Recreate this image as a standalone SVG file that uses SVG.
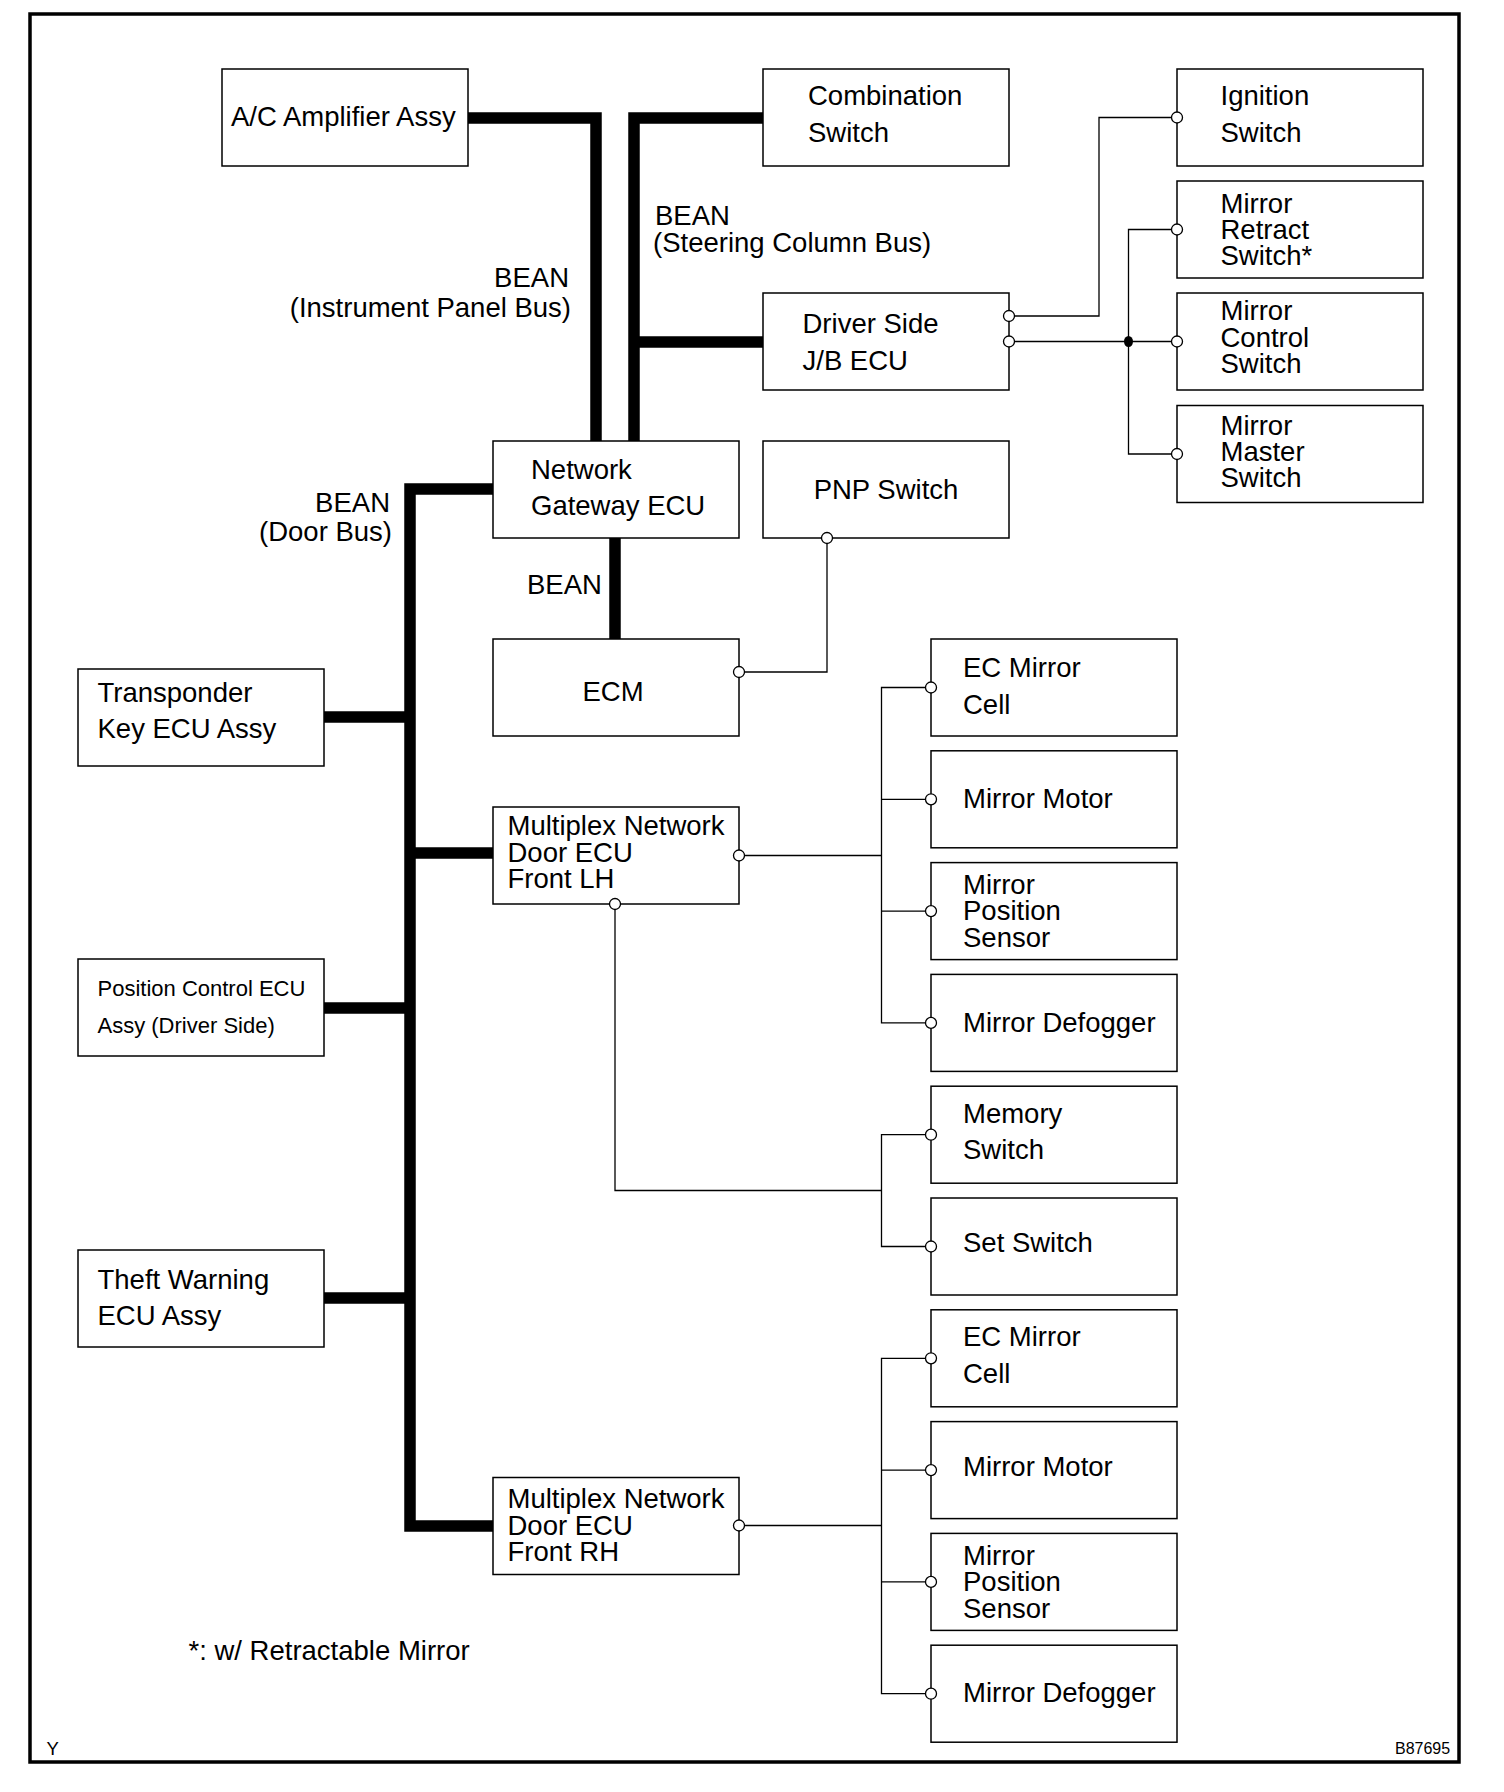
<svg xmlns="http://www.w3.org/2000/svg" width="1504" height="1792" viewBox="0 0 1504 1792">
<style>
.box{fill:#fff;stroke:#000;stroke-width:1.5}
.t{font-family:"Liberation Sans",Arial,sans-serif;font-size:27.5px;fill:#000}
.s{font-family:"Liberation Sans",Arial,sans-serif;font-size:22px;fill:#000}
.bus{fill:none;stroke:#000;stroke-width:11.5;stroke-linejoin:miter}
.w{fill:none;stroke:#000;stroke-width:1.3}
.p{fill:#fff;stroke:#000;stroke-width:1.3}
</style>
<rect x="30" y="14" width="1429" height="1748" fill="#fff" stroke="#000" stroke-width="3.5"/>
<g id="connectors">
<path class="bus" d="M468,118 H596 V441"/>
<path class="bus" d="M763,118 H634 V441"/>
<path class="bus" d="M634,342 H763"/>
<path class="bus" d="M493,489 H410 V1526 H493"/>
<path class="bus" d="M324,717 H410"/>
<path class="bus" d="M410,853 H493"/>
<path class="bus" d="M324,1008 H410"/>
<path class="bus" d="M324,1298 H410"/>
<path class="bus" d="M615,538 V639"/>
<path class="w" d="M1009,316 H1099 V117.5 H1177"/>
<path class="w" d="M1009,341.5 H1177"/>
<path class="w" d="M1177,229.5 H1128.5 V454 H1177"/>
<path class="w" d="M827,538 V672 H739"/>
<path class="w" d="M739,855.5 H881.5"/>
<path class="w" d="M931,687.5 H881.5 V1022.9 H931 M881.5,799.3 H931 M881.5,911.1 H931"/>
<path class="w" d="M615,904 V1190.5 H881.5"/>
<path class="w" d="M931,1134.7 H881.5 V1246.5 H931"/>
<path class="w" d="M739,1525.5 H881.5"/>
<path class="w" d="M931,1358.3 H881.5 V1693.7 H931 M881.5,1470.1 H931 M881.5,1581.9 H931"/>
</g>
<g id="labels">
<text class="t" text-anchor="end" x="569" y="287">BEAN</text>
<text class="t" text-anchor="end" x="571" y="317">(Instrument Panel Bus)</text>
<text class="t" x="655" y="225">BEAN</text>
<text class="t" x="653" y="252">(Steering Column Bus)</text>
<text class="t" text-anchor="end" x="390" y="512">BEAN</text>
<text class="t" text-anchor="end" x="392" y="541">(Door Bus)</text>
<text class="t" x="527" y="594">BEAN</text>
<text class="t" x="188.5" y="1660">*: w/ Retractable Mirror</text>
<text font-family="Liberation Sans, Arial, sans-serif" font-size="18.5" x="46.5" y="1755">Y</text>
<text font-family="Liberation Sans, Arial, sans-serif" font-size="16" x="1395" y="1754">B87695</text>
</g>
<g id="ac-amplifier"><rect class="box" x="222" y="69" width="246" height="97"/><text class="t" x="231" y="125.5">A/C Amplifier Assy</text></g>
<g id="combination-switch"><rect class="box" x="763" y="69" width="246" height="97"/><text class="t" x="808" y="105">Combination</text><text class="t" x="808" y="142">Switch</text></g>
<g id="ignition-switch"><rect class="box" x="1177" y="69" width="246" height="97"/><text class="t" x="1220.5" y="105">Ignition</text><text class="t" x="1220.5" y="142">Switch</text></g>
<g id="mirror-retract-switch"><rect class="box" x="1177" y="181" width="246" height="97"/><text class="t" x="1220.5" y="212.5">Mirror</text><text class="t" x="1220.5" y="238.5">Retract</text><text class="t" x="1220.5" y="265">Switch*</text></g>
<g id="driver-side-jb-ecu"><rect class="box" x="763" y="293" width="246" height="97"/><text class="t" x="802.5" y="333">Driver Side</text><text class="t" x="802.5" y="369.5">J/B ECU</text></g>
<g id="mirror-control-switch"><rect class="box" x="1177" y="293" width="246" height="97"/><text class="t" x="1220.5" y="320">Mirror</text><text class="t" x="1220.5" y="346.5">Control</text><text class="t" x="1220.5" y="372.5">Switch</text></g>
<g id="mirror-master-switch"><rect class="box" x="1177" y="405.5" width="246" height="97"/><text class="t" x="1220.5" y="434.5">Mirror</text><text class="t" x="1220.5" y="460.5">Master</text><text class="t" x="1220.5" y="487">Switch</text></g>
<g id="network-gateway-ecu"><rect class="box" x="493" y="441" width="246" height="97"/><text class="t" x="531" y="479">Network</text><text class="t" x="531" y="515">Gateway ECU</text></g>
<g id="pnp-switch"><rect class="box" x="763" y="441" width="246" height="97"/><text class="t" x="886" y="498.5" text-anchor="middle">PNP Switch</text></g>
<g id="ecm"><rect class="box" x="493" y="639" width="246" height="97"/><text class="t" x="613" y="700.5" text-anchor="middle">ECM</text></g>
<g id="transponder-key-ecu"><rect class="box" x="78" y="669" width="246" height="97"/><text class="t" x="97.5" y="701.5">Transponder</text><text class="t" x="97.5" y="738">Key ECU Assy</text></g>
<g id="ec-mirror-cell-lh"><rect class="box" x="931" y="639" width="246" height="97"/><text class="t" x="963" y="676.5">EC Mirror</text><text class="t" x="963" y="713.5">Cell</text></g>
<g id="mirror-motor-lh"><rect class="box" x="931" y="750.8" width="246" height="97"/><text class="t" x="963" y="807.5">Mirror Motor</text></g>
<g id="multiplex-door-ecu-lh"><rect class="box" x="493" y="807" width="246" height="97"/><text class="t" x="507.5" y="835">Multiplex Network</text><text class="t" x="507.5" y="861.5">Door ECU</text><text class="t" x="507.5" y="888">Front LH</text></g>
<g id="mirror-position-sensor-lh"><rect class="box" x="931" y="862.6" width="246" height="97"/><text class="t" x="963" y="893.5">Mirror</text><text class="t" x="963" y="920">Position</text><text class="t" x="963" y="946.5">Sensor</text></g>
<g id="position-control-ecu"><rect class="box" x="78" y="959" width="246" height="97"/><text class="s" x="97.5" y="996">Position Control ECU</text><text class="s" x="97.5" y="1032.5">Assy (Driver Side)</text></g>
<g id="mirror-defogger-lh"><rect class="box" x="931" y="974.4" width="246" height="97"/><text class="t" x="963" y="1032">Mirror Defogger</text></g>
<g id="memory-switch"><rect class="box" x="931" y="1086.2" width="246" height="97"/><text class="t" x="963" y="1122.5">Memory</text><text class="t" x="963" y="1159">Switch</text></g>
<g id="set-switch"><rect class="box" x="931" y="1198" width="246" height="97"/><text class="t" x="963" y="1252">Set Switch</text></g>
<g id="theft-warning-ecu"><rect class="box" x="78" y="1250" width="246" height="97"/><text class="t" x="97.5" y="1289">Theft Warning</text><text class="t" x="97.5" y="1325">ECU Assy</text></g>
<g id="ec-mirror-cell-rh"><rect class="box" x="931" y="1309.8" width="246" height="97"/><text class="t" x="963" y="1346">EC Mirror</text><text class="t" x="963" y="1382.5">Cell</text></g>
<g id="mirror-motor-rh"><rect class="box" x="931" y="1421.6" width="246" height="97"/><text class="t" x="963" y="1476">Mirror Motor</text></g>
<g id="multiplex-door-ecu-rh"><rect class="box" x="493" y="1477.5" width="246" height="97"/><text class="t" x="507.5" y="1508">Multiplex Network</text><text class="t" x="507.5" y="1534.5">Door ECU</text><text class="t" x="507.5" y="1561">Front RH</text></g>
<g id="mirror-position-sensor-rh"><rect class="box" x="931" y="1533.4" width="246" height="97"/><text class="t" x="963" y="1564.5">Mirror</text><text class="t" x="963" y="1591">Position</text><text class="t" x="963" y="1617.5">Sensor</text></g>
<g id="mirror-defogger-rh"><rect class="box" x="931" y="1645.2" width="246" height="97"/><text class="t" x="963" y="1702">Mirror Defogger</text></g>
<g id="terminals">
<circle class="p" cx="1177" cy="117.5" r="5.5"/>
<circle class="p" cx="1177" cy="229.5" r="5.5"/>
<circle class="p" cx="1177" cy="341.5" r="5.5"/>
<circle class="p" cx="1177" cy="454" r="5.5"/>
<circle class="p" cx="1009" cy="316" r="5.5"/>
<circle class="p" cx="1009" cy="341.5" r="5.5"/>
<ellipse cx="1128.5" cy="341.5" rx="4.5" ry="5.5" fill="#000"/>
<circle class="p" cx="827" cy="538" r="5.5"/>
<circle class="p" cx="739" cy="672" r="5.5"/>
<circle class="p" cx="739" cy="855.5" r="5.5"/>
<circle class="p" cx="615" cy="904" r="5.5"/>
<circle class="p" cx="739" cy="1525.5" r="5.5"/>
<circle class="p" cx="931" cy="687.5" r="5.5"/>
<circle class="p" cx="931" cy="799.3" r="5.5"/>
<circle class="p" cx="931" cy="911.1" r="5.5"/>
<circle class="p" cx="931" cy="1022.9" r="5.5"/>
<circle class="p" cx="931" cy="1134.7" r="5.5"/>
<circle class="p" cx="931" cy="1246.5" r="5.5"/>
<circle class="p" cx="931" cy="1358.3" r="5.5"/>
<circle class="p" cx="931" cy="1470.1" r="5.5"/>
<circle class="p" cx="931" cy="1581.9" r="5.5"/>
<circle class="p" cx="931" cy="1693.7" r="5.5"/>
</g>
</svg>
